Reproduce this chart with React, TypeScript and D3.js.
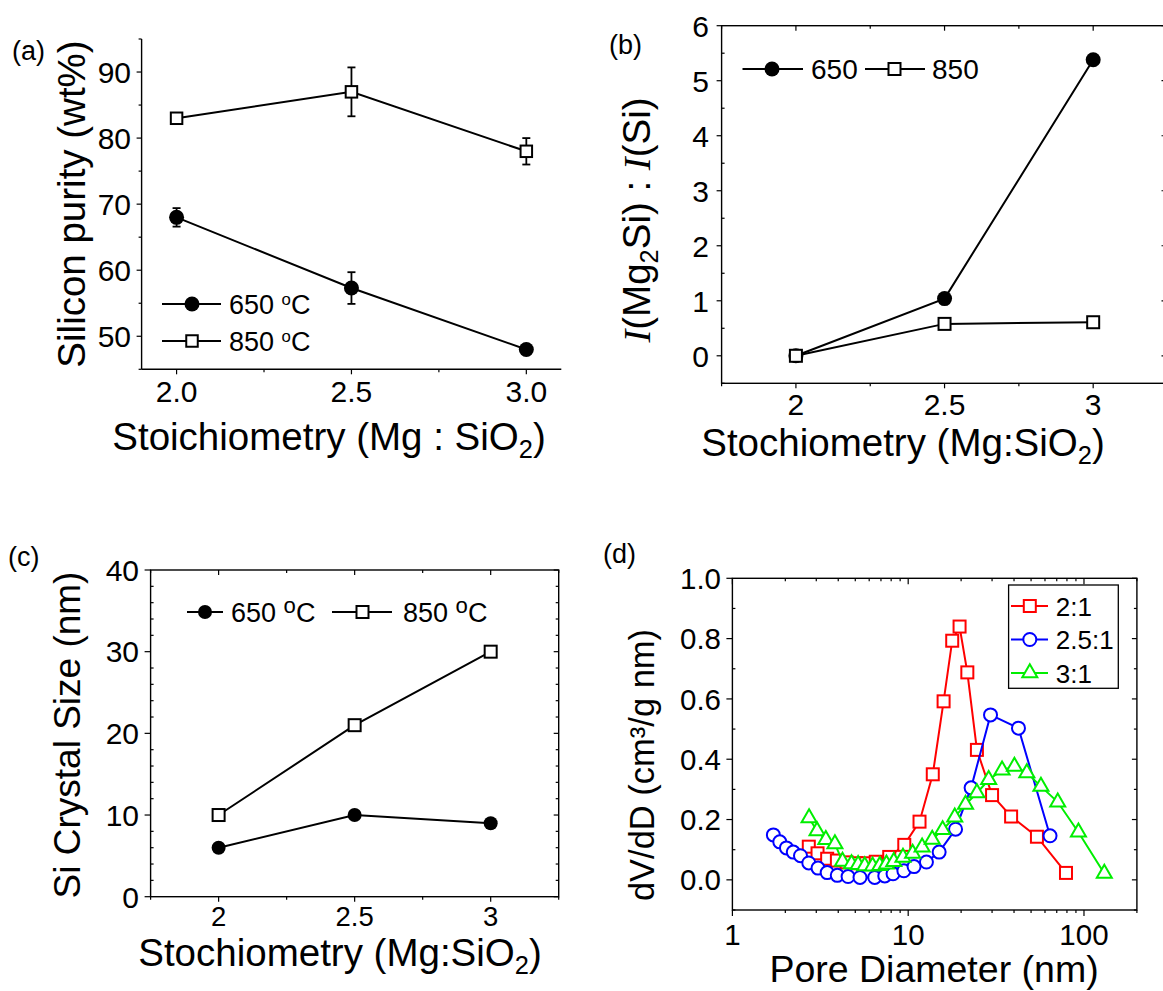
import React from "react";
import * as d3 from "d3";

// ---- data ----
const stoich = [2.0, 2.5, 3.0];

// (a) silicon purity, wt%
const purity650 = [68, 57.3, 48];
const purity650Err = [1.4, 2.4, 0.3];
const purity850 = [83, 87, 78];
const purity850Err = [0.6, 3.7, 2.0];

// (b) XRD intensity ratio I(Mg2Si):I(Si)
const ratio650 = [0, 1.04, 5.38];
const ratio850 = [0, 0.58, 0.61];

// (c) Si crystal size, nm
const crystal650 = [6, 10, 9];
const crystal850 = [10, 21, 30];

// (d) pore size distributions
const pore21D = [2.72, 3.05, 3.46, 3.93, 4.46, 5.07, 5.76, 6.54, 7.8, 9.5, 11.6, 13.8, 15.9, 17.8, 19.6, 21.7, 24.6, 30.0, 38.5, 54.0, 79.0];
const pore21V = [0.110, 0.088, 0.070, 0.064, 0.058, 0.055, 0.055, 0.060, 0.076, 0.116, 0.193, 0.350, 0.592, 0.793, 0.840, 0.688, 0.431, 0.281, 0.210, 0.143, 0.023];
const pore251D = [1.71, 1.86, 2.03, 2.22, 2.44, 2.72, 3.07, 3.46, 3.95, 4.55, 5.32, 6.45, 7.36, 8.2, 9.45, 10.8, 12.7, 15.0, 18.6, 22.8, 29.4, 42.4, 64.1];
const pore251V = [0.149, 0.126, 0.106, 0.092, 0.080, 0.056, 0.039, 0.024, 0.015, 0.011, 0.008, 0.008, 0.013, 0.020, 0.030, 0.044, 0.059, 0.092, 0.168, 0.305, 0.547, 0.503, 0.146];
const pore31D = [2.73, 3.03, 3.40, 3.83, 4.23, 4.76, 5.19, 5.66, 6.27, 6.89, 7.52, 8.28, 9.34, 10.6, 12.0, 13.7, 15.7, 18.4, 21.2, 24.6, 28.7, 34.2, 40.2, 47.3, 56.9, 70.9, 93.0, 130.5];
const pore31V = [0.205, 0.162, 0.133, 0.119, 0.061, 0.053, 0.050, 0.046, 0.045, 0.047, 0.052, 0.060, 0.074, 0.088, 0.108, 0.134, 0.166, 0.208, 0.250, 0.288, 0.332, 0.364, 0.376, 0.355, 0.310, 0.258, 0.158, 0.021];

const stoichTicksA = ["2.0", "2.5", "3.0"];
const stoichTicks = ["2", "2.5", "3"];
const poreSeries = ["2:1", "2.5:1", "3:1"];
const tempLabels = ["650", "850"];

const FONT = "'Liberation Sans', Arial, Helvetica, sans-serif";
const SERIF = "'Liberation Serif', 'Times New Roman', serif";
const INK = "#000";
const TICK_FS = 30;
const TITLE_FS = 38.5;
const LEG_FS = 27;
const LW = 2;

type Sc = (v: number) => number;

const VTicks = ({ y, values, x, len, w = 1.2 }: { y: Sc; values: number[]; x: number; len: number; w?: number }) => (
  <g stroke={INK} strokeWidth={w}>
    {values.map((v, i) => (
      <line key={i} x1={x} x2={x + len} y1={y(v)} y2={y(v)} />
    ))}
  </g>
);

const HTicks = ({ x, values, y, len, w = 1.2 }: { x: Sc; values: number[]; y: number; len: number; w?: number }) => (
  <g stroke={INK} strokeWidth={w}>
    {values.map((v, i) => (
      <line key={i} x1={x(v)} x2={x(v)} y1={y} y2={y + len} />
    ))}
  </g>
);

const Square = ({ cx, cy, s, stroke, w = 2 }: { cx: number; cy: number; s: number; stroke: string; w?: number }) => (
  <rect x={cx - s / 2} y={cy - s / 2} width={s} height={s} fill="#fff" stroke={stroke} strokeWidth={w} />
);

const Triangle = ({ cx, cy, s, stroke, w = 2 }: { cx: number; cy: number; s: number; stroke: string; w?: number }) => {
  const h = (s * Math.sqrt(3)) / 2;
  const p = `M${cx},${cy - (2 * h) / 3}L${cx + s / 2},${cy + h / 3}L${cx - s / 2},${cy + h / 3}Z`;
  return <path d={p} fill="#fff" stroke={stroke} strokeWidth={w} />;
};

const Degree = ({ big = false }: { big?: boolean }) =>
  big ? (
    <>
      <tspan fontSize="0.82em" dy="-0.42em">o</tspan>
      <tspan dy="0.34em">C</tspan>
    </>
  ) : (
    <>
      <tspan fontSize="0.62em" dy="-0.55em">o</tspan>
      <tspan dy="0.34em">C</tspan>
    </>
  );

const Sub2 = ({ fs }: { fs: number }) => (
  <>
    <tspan fontSize={fs * 0.66} dy={fs * 0.2}>2</tspan>
    <tspan dy={-fs * 0.2}>)</tspan>
  </>
);

// ---------------- panel (a) ----------------
function PanelA() {
  const x = d3.scaleLinear().domain([1.9, 3.1]).range([141.6, 561.3]);
  const y = d3.scaleLinear().domain([45, 95]).range([369.3, 39]);
  const line = d3.line<number>().x((_, i) => x(stoich[i])).y((v) => y(v));
  const yMajor = [50, 60, 70, 80, 90];
  const yMinor = [45, 55, 65, 75, 85, 95];
  const xMajor = [2, 2.5, 3];
  const xMinor = [2.25, 2.75];
  const err = (vals: number[], errs: number[]) =>
    vals.map((v, i) => (
      <g key={i} stroke={INK} strokeWidth={1.8}>
        <line x1={x(stoich[i])} x2={x(stoich[i])} y1={y(v - errs[i])} y2={y(v + errs[i])} />
        <line x1={x(stoich[i]) - 4} x2={x(stoich[i]) + 4} y1={y(v - errs[i])} y2={y(v - errs[i])} />
        <line x1={x(stoich[i]) - 4} x2={x(stoich[i]) + 4} y1={y(v + errs[i])} y2={y(v + errs[i])} />
      </g>
    ));
  return (
    <g fontFamily={FONT}>
      <text x={12} y={60} fontSize={27}>(a)</text>
      <line x1={141.6} x2={141.6} y1={39} y2={369.3} stroke={INK} strokeWidth={1.4} />
      <line x1={141.6} x2={561.3} y1={369.3} y2={369.3} stroke={INK} strokeWidth={1.4} />
      <VTicks y={y} values={yMajor} x={141.6} len={-5} />
      <VTicks y={y} values={yMinor} x={141.6} len={-3} />
      <HTicks x={x} values={xMajor} y={369.3} len={5} />
      <HTicks x={x} values={xMinor} y={369.3} len={3} />
      {yMajor.map((v) => (
        <text key={v} x={131} y={y(v)} dy="0.36em" textAnchor="end" fontSize={TICK_FS}>{v}</text>
      ))}
      {xMajor.map((v, i) => (
        <text key={v} x={x(v)} y={402} textAnchor="middle" fontSize={TICK_FS}>{stoichTicksA[i]}</text>
      ))}
      <text x={329} y={450} textAnchor="middle" fontSize={TITLE_FS}>
        Stoichiometry (Mg : SiO<Sub2 fs={TITLE_FS} />
      </text>
      <text transform="translate(85,204) rotate(-90)" textAnchor="middle" fontSize={TITLE_FS}>Silicon purity (wt%)</text>

      <path d={line(purity850) || ""} fill="none" stroke={INK} strokeWidth={LW} />
      <path d={line(purity650) || ""} fill="none" stroke={INK} strokeWidth={LW} />
      {err(purity850, purity850Err)}
      {err(purity650, purity650Err)}
      {purity850.map((v, i) => (
        <Square key={i} cx={x(stoich[i])} cy={y(v)} s={11.5} stroke={INK} />
      ))}
      {purity650.map((v, i) => (
        <circle key={i} cx={x(stoich[i])} cy={y(v)} r={7.5} fill={INK} />
      ))}

      {/* legend */}
      <line x1={162} x2={221} y1={304} y2={304} stroke={INK} strokeWidth={LW} />
      <circle cx={192} cy={304} r={7.5} fill={INK} />
      <text x={229} y={314} fontSize={LEG_FS}>{tempLabels[0]} <Degree /></text>
      <line x1={162} x2={221} y1={341} y2={341} stroke={INK} strokeWidth={LW} />
      <Square cx={192} cy={341} s={11.5} stroke={INK} />
      <text x={229} y={351} fontSize={LEG_FS}>{tempLabels[1]} <Degree /></text>
    </g>
  );
}

// ---------------- panel (b) ----------------
function PanelB() {
  const L = 721.6, R = 1167.5, T = 25.7, B = 383.3;
  const x = d3.scaleLinear().domain([1.75, 3.25]).range([L, R]);
  const y = d3.scaleLinear().domain([-0.5, 6]).range([B, T]);
  const line = d3.line<number>().x((_, i) => x(stoich[i])).y((v) => y(v));
  const yMajor = [0, 1, 2, 3, 4, 5, 6];
  const yMinor = [-0.5, 0.5, 1.5, 2.5, 3.5, 4.5, 5.5];
  const xMajor = [2, 2.5, 3];
  const xMinor = [1.75, 2.25, 2.75, 3.25];
  return (
    <g fontFamily={FONT}>
      <text x={609} y={54} fontSize={27}>(b)</text>
      <rect x={L} y={T} width={R - L} height={B - T} fill="none" stroke={INK} strokeWidth={1.4} />
      <VTicks y={y} values={yMajor} x={L} len={-5} />
      <VTicks y={y} values={yMinor} x={L} len={3} />
      <VTicks y={y} values={yMajor} x={R} len={-6} />
      <HTicks x={x} values={xMajor} y={B} len={5} />
      <HTicks x={x} values={xMinor} y={B} len={3} />
      <HTicks x={x} values={xMajor} y={T} len={5} />
      <HTicks x={x} values={xMinor} y={T} len={3} />
      {yMajor.map((v) => (
        <text key={v} x={709} y={y(v)} dy="0.36em" textAnchor="end" fontSize={TICK_FS}>{v}</text>
      ))}
      {xMajor.map((v, i) => (
        <text key={v} x={x(v)} y={415} textAnchor="middle" fontSize={TICK_FS}>{stoichTicks[i]}</text>
      ))}
      <text x={903} y={456} textAnchor="middle" fontSize={TITLE_FS}>
        Stochiometry (Mg:SiO<Sub2 fs={TITLE_FS} />
      </text>
      <text transform="translate(650,220) rotate(-90)" textAnchor="middle" fontSize={TITLE_FS}>
        <tspan fontFamily={SERIF} fontStyle="italic">I</tspan>(Mg
        <tspan fontSize={TITLE_FS * 0.66} dy={TITLE_FS * 0.2}>2</tspan>
        <tspan dy={-TITLE_FS * 0.2}>Si) : </tspan>
        <tspan fontFamily={SERIF} fontStyle="italic">I</tspan>(Si)
      </text>

      <path d={line(ratio650) || ""} fill="none" stroke={INK} strokeWidth={LW} />
      <path d={line(ratio850) || ""} fill="none" stroke={INK} strokeWidth={LW} />
      {ratio650.map((v, i) => (
        <circle key={i} cx={x(stoich[i])} cy={y(v)} r={7.5} fill={INK} />
      ))}
      {ratio850.map((v, i) => (
        <Square key={i} cx={x(stoich[i])} cy={y(v)} s={12} stroke={INK} />
      ))}

      {/* legend */}
      <line x1={742.5} x2={803} y1={69} y2={69} stroke={INK} strokeWidth={LW} />
      <circle cx={772} cy={69} r={7.5} fill={INK} />
      <text x={811} y={79} fontSize={LEG_FS + 1}>{tempLabels[0]}</text>
      <line x1={865} x2={925} y1={69} y2={69} stroke={INK} strokeWidth={LW} />
      <Square cx={894.5} cy={69} s={12} stroke={INK} />
      <text x={932} y={79} fontSize={LEG_FS + 1}>{tempLabels[1]}</text>
    </g>
  );
}

// ---------------- panel (c) ----------------
function PanelC() {
  const L = 150.6, R = 558.7, T = 570, B = 896.7;
  const x = d3.scaleLinear().domain([1.75, 3.25]).range([L, R]);
  const y = d3.scaleLinear().domain([0, 40]).range([B, T]);
  const line = d3.line<number>().x((_, i) => x(stoich[i])).y((v) => y(v));
  const yMajor = [0, 10, 20, 30, 40];
  const yMinor = d3.range(2, 40, 2).filter((v) => v % 10 !== 0);
  const xMajor = [2, 2.5, 3];
  const xMinor = [1.75, 2.25, 2.75, 3.25];
  return (
    <g fontFamily={FONT}>
      <text x={8} y={566} fontSize={27}>(c)</text>
      <rect x={L} y={T} width={R - L} height={B - T} fill="none" stroke={INK} strokeWidth={1.4} />
      <VTicks y={y} values={yMajor} x={L} len={-6} />
      <VTicks y={y} values={yMinor} x={L} len={3} />
      <VTicks y={y} values={yMajor} x={R} len={-5} />
      <VTicks y={y} values={yMinor} x={R} len={-3} />
      <HTicks x={x} values={xMajor} y={B} len={5} />
      <HTicks x={x} values={xMinor} y={B} len={3} />
      <HTicks x={x} values={xMajor} y={T} len={5} />
      <HTicks x={x} values={xMinor} y={T} len={3} />
      {yMajor.map((v) => (
        <text key={v} x={139} y={y(v)} dy="0.36em" textAnchor="end" fontSize={TICK_FS}>{v}</text>
      ))}
      {xMajor.map((v, i) => (
        <text key={v} x={x(v)} y={926} textAnchor="middle" fontSize={27.5}>{stoichTicks[i]}</text>
      ))}
      <text x={340} y={966} textAnchor="middle" fontSize={TITLE_FS}>
        Stochiometry (Mg:SiO<Sub2 fs={TITLE_FS} />
      </text>
      <text transform="translate(80,735) rotate(-90)" textAnchor="middle" fontSize={37}>Si Crystal Size (nm)</text>

      <path d={line(crystal850) || ""} fill="none" stroke={INK} strokeWidth={LW} />
      <path d={line(crystal650) || ""} fill="none" stroke={INK} strokeWidth={LW} />
      {crystal850.map((v, i) => (
        <Square key={i} cx={x(stoich[i])} cy={y(v)} s={12} stroke={INK} />
      ))}
      {crystal650.map((v, i) => (
        <circle key={i} cx={x(stoich[i])} cy={y(v)} r={7} fill={INK} />
      ))}

      {/* legend */}
      <line x1={187} x2={223} y1={612} y2={612} stroke={INK} strokeWidth={LW} />
      <circle cx={205} cy={612} r={7} fill={INK} />
      <text x={231} y={622} fontSize={LEG_FS}>{tempLabels[0]} <Degree big /></text>
      <line x1={332} x2={392} y1={612} y2={612} stroke={INK} strokeWidth={LW} />
      <Square cx={362.5} cy={612} s={12} stroke={INK} />
      <text x={403} y={622} fontSize={LEG_FS}>{tempLabels[1]} <Degree big /></text>
    </g>
  );
}

// ---------------- panel (d) ----------------
function PanelD() {
  const L = 732.4, R = 1136.9, T = 578.3, B = 910;
  const x = d3.scaleLog().domain([1, 200]).range([L, R]);
  const y = d3.scaleLinear().domain([-0.1, 1.0]).range([B, T]);
  const yMajor = [0, 0.2, 0.4, 0.6, 0.8, 1.0];
  const yMinor = [-0.1, 0.1, 0.3, 0.5, 0.7, 0.9];
  const xMajor = [1, 10, 100];
  const xMinor = [2, 3, 4, 5, 6, 7, 8, 9, 20, 30, 40, 50, 60, 70, 80, 90, 200];
  const mk = (ds: number[]) => d3.line<number>().x((_, i) => x(ds[i])).y((v) => y(v));
  const RED = "#ff0000", BLUE = "#0000ff", GREEN = "#00ee00";
  const legendY = [606, 639.5, 673];
  return (
    <g fontFamily={FONT}>
      <text x={603} y={563} fontSize={27}>(d)</text>
      <rect x={L} y={T} width={R - L} height={B - T} fill="none" stroke={INK} strokeWidth={1.4} />
      <VTicks y={y} values={yMajor} x={L} len={-6} />
      <VTicks y={y} values={yMinor} x={L} len={3} />
      <VTicks y={y} values={yMajor} x={R} len={-5} />
      <VTicks y={y} values={yMinor} x={R} len={-3} />
      <HTicks x={x} values={xMajor} y={B} len={6} />
      <HTicks x={x} values={xMinor} y={B} len={3} />
      <HTicks x={x} values={xMajor} y={T} len={6} />
      <HTicks x={x} values={xMinor} y={T} len={3} />
      {yMajor.map((v) => (
        <text key={v} x={721} y={y(v)} dy="0.36em" textAnchor="end" fontSize={29.5}>{d3.format(".1f")(v)}</text>
      ))}
      {xMajor.map((v) => (
        <text key={v} x={x(v)} y={945} textAnchor="middle" fontSize={29.5}>{v}</text>
      ))}
      <text x={934} y={982} textAnchor="middle" fontSize={37.5}>Pore Diameter (nm)</text>
      <text transform="translate(654,765) rotate(-90)" textAnchor="middle" fontSize={34.5}>dV/dD (cm³/g nm)</text>

      <path d={mk(pore21D)(pore21V) || ""} fill="none" stroke={RED} strokeWidth={LW} />
      {pore21V.map((v, i) => (
        <Square key={i} cx={x(pore21D[i])} cy={y(v)} s={12} stroke={RED} />
      ))}
      <path d={mk(pore251D)(pore251V) || ""} fill="none" stroke={BLUE} strokeWidth={LW} />
      {pore251V.map((v, i) => (
        <circle key={i} cx={x(pore251D[i])} cy={y(v)} r={6.5} fill="#fff" stroke={BLUE} strokeWidth={2} />
      ))}
      <path d={mk(pore31D)(pore31V) || ""} fill="none" stroke={GREEN} strokeWidth={LW} />
      {pore31V.map((v, i) => (
        <Triangle key={i} cx={x(pore31D[i])} cy={y(v)} s={15} stroke={GREEN} />
      ))}

      {/* legend */}
      <rect x={1008.6} y={585} width={109.7} height={103.3} fill="#fff" stroke={INK} strokeWidth={1.3} />
      {[RED, BLUE, GREEN].map((c, i) => (
        <g key={i}>
          <line x1={1011} x2={1048} y1={legendY[i]} y2={legendY[i]} stroke={c} strokeWidth={LW} />
          {i === 0 && <Square cx={1029.8} cy={legendY[i]} s={12} stroke={c} />}
          {i === 1 && <circle cx={1029.8} cy={legendY[i]} r={6.5} fill="#fff" stroke={c} strokeWidth={2} />}
          {i === 2 && <Triangle cx={1029.8} cy={legendY[i]} s={15} stroke={c} />}
          <text x={1055.8} y={legendY[i] + 9.5} fontSize={26}>{poreSeries[i]}</text>
        </g>
      ))}
    </g>
  );
}

export default function App() {
  return (
    <svg width={1163} height={991} viewBox="0 0 1163 991" style={{ position: "absolute", left: 0, top: 0, background: "#fff" }}>
      <rect width={1163} height={991} fill="#fff" />
      <PanelA />
      <PanelB />
      <PanelC />
      <PanelD />
    </svg>
  );
}
